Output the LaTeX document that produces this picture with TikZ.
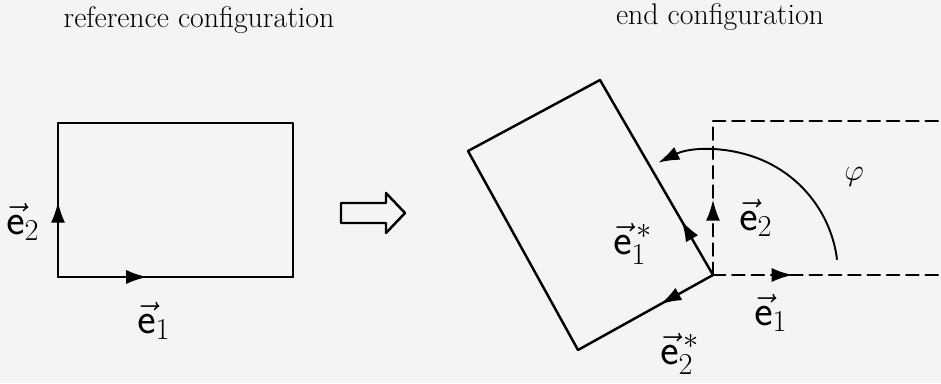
\documentclass[tikz,border=0pt]{standalone}
\usepackage{amsmath,amssymb}
\usetikzlibrary{calc, positioning, arrows.meta, decorations.markings}
\definecolor{paper}{RGB}{244,244,244}

\begin{document}
\begin{tikzpicture}[
    x=0.02cm, y=-0.02cm,
    frame/.style={line width=1.4pt, line cap=round, line join=round},
    ghost/.style={frame, dash pattern=on 7pt off 4pt},
    tipat/.style={postaction={decorate}, decoration={markings,
      mark=at position #1 with {\arrow[solid]{Latex[length=12pt,width=8pt]}}}},
    vlabel/.style={font=\fontsize{23}{27}\selectfont, inner sep=0pt},
    heading/.style={font=\fontsize{17}{20}\selectfont, inner sep=0pt, anchor=base},
  ]
    \fill[paper] (0,0) rectangle (941,383);
    \useasboundingbox (0,0) rectangle (941,383);

    % titles
    \node[heading] (reftitle) at (199,27) {reference configuration};
    \node[heading] (endtitle) at (720,24) {end configuration};

    % reference configuration
    \coordinate (o) at (58,277);
    \coordinate (p1) at (293,277);
    \coordinate (p2) at (293,123);
    \coordinate (p3) at (58,123);
    \draw[frame] (p1) -- (p2) -- (p3);
    \draw[frame, tipat=0.38] (o) -- (p1);
    \draw[frame, tipat=0.49] (o) -- (p3);
    \node[vlabel] (re1) at (154,321) {$\vec{\mathsf{e}}_1$};
    \node[vlabel] (re2) at (23,222) {$\vec{\mathsf{e}}_2$};

    % hollow arrow
    \draw[frame] (341,203) -- (386,203) -- (386,193) -- (405,213)
      -- (386,233) -- (386,223) -- (341,223) -- cycle;

    % end configuration
    \coordinate (P) at (713,275);
    \coordinate (A) at (600,80);
    \coordinate (B) at (468,151);
    \coordinate (C) at (578,350);
    \draw[frame] (A) -- (B) -- (C);
    \draw[frame, tipat=0.28] (P) -- (A);
    \draw[frame, tipat=0.39] (P) -- (C);

    % old frame, dashed
    \coordinate (d1) at (941,275);
    \coordinate (d2) at (713,121);
    \coordinate (d3) at (941,121);
    \draw[ghost] (d2) -- (d3);
    \draw[ghost, tipat=0.35] (P) -- (d1);
    \draw[ghost, tipat=0.49] (P) -- (d2);

    % angle
    \draw[line width=1.1pt, -{Latex[length=12pt,width=8pt]}]
      ([shift={(-7:125)}]P) arc[start angle=-7, end angle=-116, radius=125];

    \node[vlabel] (se1) at (633,244) {$\vec{\mathsf{e}}^{\,*}_1$};
    \node[vlabel] (se2) at (680,354) {$\vec{\mathsf{e}}^{\,*}_2$};
    \node[vlabel] (de1) at (771,313) {$\vec{\mathsf{e}}_1$};
    \node[vlabel] (de2) at (756,218) {$\vec{\mathsf{e}}_2$};
    \node[vlabel, font=\fontsize{19}{22}\selectfont] (phi) at (854,177) {$\varphi$};
  \end{tikzpicture}
\end{document}
